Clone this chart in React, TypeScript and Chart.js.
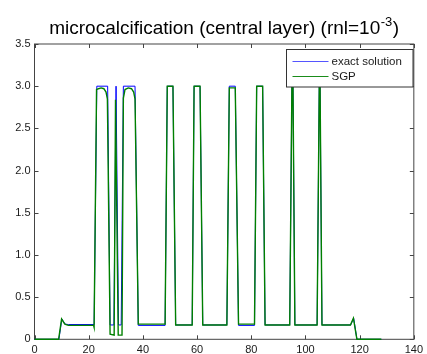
import { useEffect, useRef } from 'react';
import { Chart, registerables } from 'chart.js';

Chart.register(...registerables);

// ---- data ----
const xTicks = [0, 20, 40, 60, 80, 100, 120, 140];
const yTicks = [0, 0.5, 1, 1.5, 2, 2.5, 3, 3.5];

const exactX = [0, 9.0, 10.1, 11.3, 12.5, 22.0, 23.0, 27.0, 27.9, 29.3, 30.1, 31.0, 32.0, 32.8, 37.1, 38.3, 48.2, 49.0, 51.1, 52.1, 58.2, 58.9, 61.1, 62.1, 71.0, 71.9, 74.1, 75.3, 81.2, 82.0, 84.2, 85.1, 94.2, 95.0, 95.4, 96.1, 104.3, 105.1, 105.4, 106.1, 116.7, 117.8, 119.0, 128];
const exactY = [0, 0, 0.24, 0.18, 0.175, 0.175, 3, 3, 0.17, 0.17, 3, 0.17, 0.17, 3, 3, 0.165, 0.165, 3, 3, 0.17, 0.17, 3, 3, 0.17, 0.17, 3, 3, 0.165, 0.165, 3, 3, 0.17, 0.17, 3, 3, 0.17, 0.17, 3, 3, 0.17, 0.17, 0.25, 0, 0];

const sgpX = [0, 8.9, 10.0, 11.2, 12.5, 21.8, 22.0, 22.9, 23.6, 24.6, 25.6, 26.4, 26.9, 27.9, 29.4, 29.9, 30.9, 32.3, 32.8, 33.4, 34.6, 35.8, 36.6, 37.1, 38.3, 48.2, 49.0, 51.1, 52.1, 58.2, 58.9, 61.1, 62.1, 71.0, 71.9, 74.1, 75.3, 81.2, 82.0, 84.2, 85.1, 94.2, 95.0, 95.4, 96.1, 104.3, 105.1, 105.4, 106.1, 116.6, 117.7, 119.0, 128];
const sgpY = [0, 0, 0.24, 0.18, 0.165, 0.165, 0.14, 2.96, 2.97, 2.98, 2.97, 2.93, 2.85, 0.06, 0.05, 2.84, 0.05, 0.05, 2.86, 2.96, 2.98, 2.97, 2.93, 2.85, 0.18, 0.18, 3, 3, 0.17, 0.17, 3, 3, 0.17, 0.17, 2.98, 2.98, 0.18, 0.18, 3, 3, 0.17, 0.17, 3, 3, 0.17, 0.17, 3, 3, 0.17, 0.17, 0.25, 0, 0];

const seriesLabels = ['exact solution', 'SGP'];
const seriesColors = ['#0000ff', '#008000'];

const titleMain = 'microcalcification (central layer) (rnl=10';
const titleSup = '-3';
const titleEnd = ')';

const FONT = '"Liberation Sans", Arial, Helvetica, sans-serif';
const AXIS_COLOR = '#444444';
const TEXT_COLOR = '#1a1a1a';

const framePlugin = {
  id: 'frame',
  beforeDatasetsDraw(chart: any) {
    const { ctx, chartArea: a, scales } = chart;
    ctx.save();
    ctx.strokeStyle = AXIS_COLOR;
    ctx.lineWidth = 1;
    ctx.strokeRect(a.left, a.top, a.right - a.left, a.bottom - a.top);
    ctx.beginPath();
    const tl = 4;
    xTicks.forEach((v) => {
      const px = Math.round(scales.x.getPixelForValue(v)) + 0.5;
      ctx.moveTo(px, a.bottom);
      ctx.lineTo(px, a.bottom - tl);
      ctx.moveTo(px, a.top);
      ctx.lineTo(px, a.top + tl);
    });
    yTicks.forEach((v) => {
      const py = Math.round(scales.y.getPixelForValue(v)) + 0.5;
      ctx.moveTo(a.left, py);
      ctx.lineTo(a.left + tl, py);
      ctx.moveTo(a.right, py);
      ctx.lineTo(a.right - tl, py);
    });
    ctx.stroke();
    ctx.restore();
  },
};

const legendPlugin = {
  id: 'boxLegend',
  afterDraw(chart: any) {
    const { ctx, chartArea: a } = chart;
    const w = 126.5;
    const h = 37.5;
    const left = Math.round(a.right - 1 - w) + 0.5;
    const top = Math.round(a.top + 5) + 0.5;
    ctx.save();
    ctx.fillStyle = '#ffffff';
    ctx.fillRect(left, top, w, h);
    ctx.strokeStyle = '#333333';
    ctx.lineWidth = 1;
    ctx.strokeRect(left, top, w, h);
    ctx.font = '11.5px ' + FONT;
    ctx.textBaseline = 'middle';
    ctx.textAlign = 'left';
    const legendLineColors = ['#5555ff', '#1a8c1a'];
    seriesLabels.forEach((lab, i) => {
      const y = Math.round(top + 11 + i * 15.5) + 0.5;
      ctx.strokeStyle = legendLineColors[i];
      ctx.beginPath();
      ctx.moveTo(left + 6, y);
      ctx.lineTo(left + 42, y);
      ctx.stroke();
      ctx.fillStyle = TEXT_COLOR;
      ctx.fillText(lab, left + 45, y + 0.5);
    });
    ctx.restore();
  },
};

const titlePlugin = {
  id: 'supTitle',
  afterDraw(chart: any) {
    const { ctx, chartArea: a } = chart;
    ctx.save();
    ctx.fillStyle = '#000000';
    ctx.textBaseline = 'alphabetic';
    ctx.textAlign = 'left';
    const big = '19px ' + FONT;
    const small = '13px ' + FONT;
    ctx.font = big;
    const w1 = ctx.measureText(titleMain).width;
    const w3 = ctx.measureText(titleEnd).width;
    ctx.font = small;
    const w2 = ctx.measureText(titleSup).width;
    const total = w1 + w2 + w3 + 1;
    const cx = (a.left + a.right) / 2;
    let x = cx - total / 2;
    const base = 33.5;
    ctx.font = big;
    ctx.fillText(titleMain, x, base);
    x += w1 + 0.5;
    ctx.font = small;
    ctx.fillText(titleSup, x, base - 8);
    x += w2 + 0.5;
    ctx.font = big;
    ctx.fillText(titleEnd, x, base);
    ctx.restore();
  },
};

export default function App() {
  const ref = useRef<HTMLCanvasElement>(null);
  useEffect(() => {
    document.body.style.margin = '0';
    const canvas = ref.current;
    if (!canvas) return;
    const tickFont = { family: FONT, size: 11 };
    const chart = new Chart(canvas, {
      type: 'scatter',
      data: {
        datasets: [
          {
            label: seriesLabels[0],
            data: exactX.map((x, i) => ({ x, y: exactY[i] })),
            borderColor: seriesColors[0],
            backgroundColor: seriesColors[0],
            borderWidth: 1,
            showLine: true,
            pointRadius: 0,
            tension: 0,
            clip: 3,
            order: 1,
          },
          {
            label: seriesLabels[1],
            data: sgpX.map((x, i) => ({ x, y: sgpY[i] })),
            borderColor: seriesColors[1],
            backgroundColor: seriesColors[1],
            borderWidth: 1.4,
            showLine: true,
            pointRadius: 0,
            tension: 0,
            clip: 3,
            order: 0,
          },
        ],
      },
      options: {
        responsive: false,
        animation: false,
        events: [],
        layout: { padding: { top: 44, right: 10.5, left: 0, bottom: 0 } },
        plugins: {
          legend: { display: false },
          title: { display: false },
          tooltip: { enabled: false },
        },
        scales: {
          x: {
            type: 'linear',
            min: 0,
            max: 140,
            afterBuildTicks: (s: any) => {
              s.ticks = xTicks.map((v) => ({ value: v }));
            },
            afterFit: (s: any) => {
              s.height = 14.7;
            },
            grid: { display: false, drawTicks: false },
            border: { display: false },
            ticks: { font: tickFont, color: TEXT_COLOR, padding: 4, maxRotation: 0, autoSkip: false },
          },
          y: {
            type: 'linear',
            min: 0,
            max: 3.5,
            afterBuildTicks: (s: any) => {
              s.ticks = yTicks.map((v) => ({ value: v }));
            },
            afterFit: (s: any) => {
              s.width = 34.5;
            },
            grid: { display: false, drawTicks: false },
            border: { display: false },
            ticks: { font: tickFont, color: TEXT_COLOR, padding: 4, autoSkip: false },
          },
        },
      },
      plugins: [framePlugin, legendPlugin, titlePlugin],
    } as any);
    return () => chart.destroy();
  }, []);
  return <canvas ref={ref} width={427} height={354} style={{ display: 'block' }} />;
}
